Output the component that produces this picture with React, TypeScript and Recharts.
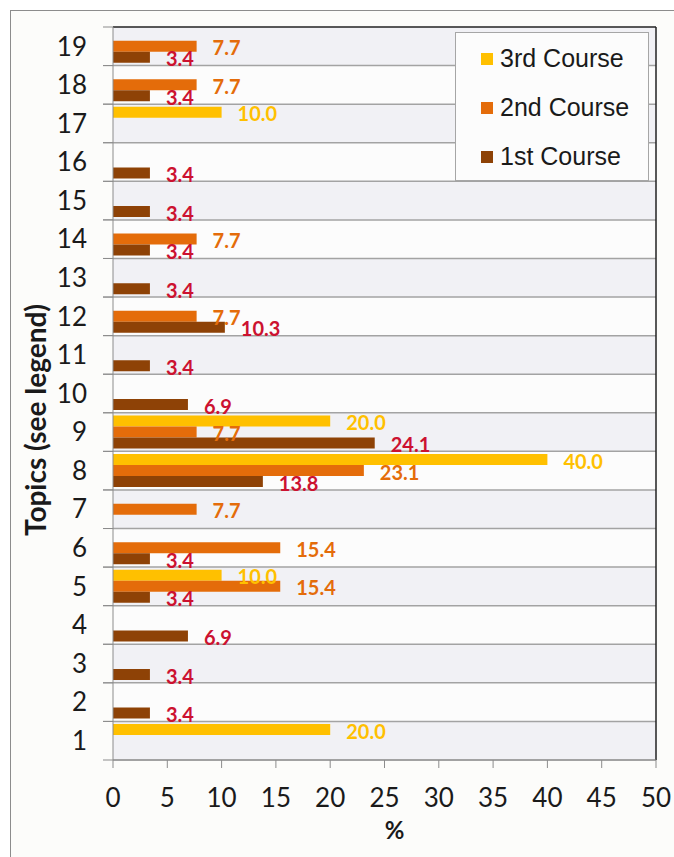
import React from "react";
import {
  BarChart,
  Bar,
  XAxis,
  YAxis,
  CartesianGrid,
  Legend,
  LabelList,
  ReferenceLine,
} from "recharts";

// topics 1..19, one value per topic (null = no bar)
const topics = [1, 2, 3, 4, 5, 6, 7, 8, 9, 10, 11, 12, 13, 14, 15, 16, 17, 18, 19];
const course1 = [null, 3.4, 3.4, 6.9, 3.4, 3.4, null, 13.8, 24.1, 6.9, 3.4, 10.3, 3.4, 3.4, 3.4, 3.4, null, 3.4, 3.4];
const course2 = [null, null, null, null, 15.4, 15.4, 7.7, 23.1, 7.7, null, null, 7.7, null, 7.7, null, null, null, 7.7, 7.7];
const course3 = [20.0, null, null, null, 10.0, null, null, 40.0, 20.0, null, null, null, null, null, null, null, 10.0, null, null];
const seriesNames = ["3rd Course", "2nd Course", "1st Course"];
const xTicks = [0, 5, 10, 15, 20, 25, 30, 35, 40, 45, 50];

const data = topics.map((t, i) => ({
  topic: t,
  c3: course3[i],
  c2: course2[i],
  c1: course1[i],
}));

const fmt = (v: any) => (v == null ? "" : Number(v).toFixed(1));

const W = 663;
const H = 846;
const MARGIN = { top: 16, right: 18, bottom: 15, left: 0 };
const Y_AXIS_W = 102;
const X_AXIS_H = 82;
const PLOT_H = H - MARGIN.top - MARGIN.bottom - X_AXIS_H;
const BAND = PLOT_H / topics.length;
const Y_TICK_SIZE = 10;
const Y_TICK_MARGIN = 16;

const tickFont = { fontFamily: "Lato", fontSize: 26, fill: "#1a1a1a" };
const labelFont = (color: string) => ({
  fontFamily: "Lato",
  fontSize: 20,
  fontWeight: 700,
  fill: color,
});

// category tick: label at band centre, tick marks at band edges
function TopicTick(props: any) {
  const { x, y, payload } = props;
  const ax = x + Y_TICK_SIZE + Y_TICK_MARGIN;
  return (
    <g>
      <line x1={ax - Y_TICK_SIZE} x2={ax} y1={y - BAND / 2} y2={y - BAND / 2} stroke="#8c8c8c" />
      <line x1={ax - Y_TICK_SIZE} x2={ax} y1={y + BAND / 2} y2={y + BAND / 2} stroke="#8c8c8c" />
      <text x={x} y={y} dy="0.355em" textAnchor="end" {...tickFont}>
        {payload.value}
      </text>
    </g>
  );
}

// grid line; the top one is the dark plot border
function GridLine(props: any) {
  const { x1, x2, y1, y2, index } = props;
  return (
    <line
      x1={x1}
      x2={x2}
      y1={y1}
      y2={y2}
      stroke={index === 0 ? "#222" : "#a3a3a3"}
      strokeWidth={1.5}
    />
  );
}

function LegendBox({ payload }: any) {
  const items = [...(payload || [])].sort(
    (a: any, b: any) => seriesNames.indexOf(a.value) - seriesNames.indexOf(b.value)
  );
  return (
    <div
      style={{
        width: 192,
        height: 146,
        border: "1px solid #a6a6a6",
        background: "#fcfcfc",
        paddingTop: 1,
        boxSizing: "content-box",
      }}
    >
      {items.map((p: any) => (
        <div key={p.value} style={{ display: "flex", alignItems: "center", height: 49 }}>
          <span
            style={{
              display: "inline-block",
              width: 12,
              height: 12,
              background: p.color,
              marginLeft: 25,
              marginRight: 7,
            }}
          />
          <span style={{ fontFamily: "Liberation Sans", fontSize: 25, color: "#1a1a1a" }}>
            {p.value}
          </span>
        </div>
      ))}
    </div>
  );
}

export default function App() {
  return (
    <div
      style={{
        position: "fixed",
        left: 0,
        top: 0,
        width: 674,
        height: 857,
        overflow: "hidden",
        background: "#fff",
      }}
    >
      <div
        style={{
          position: "absolute",
          left: 10,
          top: 10,
          width: W,
          height: H,
          border: "1px solid #8c8c8c",
          background: "#fcfcfa",
        }}
      >
        <div
          style={{
            position: "absolute",
            left: 24 - 150,
            top: 392,
            width: 300,
            lineHeight: "34px",
            textAlign: "center",
            transform: "rotate(-90deg)",
            fontFamily: "Lato",
            fontWeight: 700,
            fontSize: 28,
            color: "#1a1a1a",
            zIndex: 1,
          }}
        >
          Topics (see legend)
        </div>
        <BarChart
          width={W}
          height={H}
          data={data}
          layout="vertical"
          margin={MARGIN}
          barCategoryGap="7%"
          barGap={0}
        >
          <CartesianGrid
            vertical={false}
            horizontal={(p: any) => <GridLine key={p.key} {...p} />}
            stroke="#a3a3a3"
            strokeWidth={1.5}
            horizontalFill={["#f1f1f5", "#fcfcfc"]}
            horizontalCoordinatesGenerator={({ offset }: any) =>
              [...topics, 0].map((_, i) => offset.top + (offset.height * i) / topics.length)
            }
          />
          <YAxis
            type="category"
            dataKey="topic"
            reversed
            width={Y_AXIS_W}
            tickLine={false}
            axisLine={{ stroke: "#8c8c8c" }}
            tickSize={Y_TICK_SIZE}
            tickMargin={Y_TICK_MARGIN}
            tick={<TopicTick />}
            interval={0}
          />
          <XAxis
            type="number"
            domain={[0, 50]}
            ticks={xTicks}
            height={X_AXIS_H}
            tickSize={8}
            tickMargin={21}
            tick={tickFont}
            tickLine={{ stroke: "#8c8c8c" }}
            axisLine={{ stroke: "#8c8c8c" }}
            label={{
              value: "%",
              position: "insideBottom",
              offset: 3,
              dx: 10,
              style: { fontFamily: "Lato", fontSize: 24, fontWeight: 700, fill: "#1a1a1a" },
            }}
          />
          <ReferenceLine x={50} stroke="#222" strokeWidth={1.5} />
          <Legend
            layout="vertical"
            align="center"
            verticalAlign="middle"
            content={<LegendBox />}
            wrapperStyle={{ position: "absolute", left: 444, top: 21, width: 194 }}
          />
          <Bar dataKey="c3" name="3rd Course" fill="#ffc000" isAnimationActive={false}>
            <LabelList dataKey="c3" position="right" offset={16} dy={2} formatter={fmt} style={labelFont("#ffc000")} />
          </Bar>
          <Bar dataKey="c2" name="2nd Course" fill="#e46c0a" isAnimationActive={false}>
            <LabelList dataKey="c2" position="right" offset={16} dy={2} formatter={fmt} style={labelFont("#e46c0a")} />
          </Bar>
          <Bar dataKey="c1" name="1st Course" fill="#8e4206" isAnimationActive={false}>
            <LabelList dataKey="c1" position="right" offset={16} dy={2} formatter={fmt} style={labelFont("#cc1230")} />
          </Bar>
        </BarChart>
      </div>
    </div>
  );
}
